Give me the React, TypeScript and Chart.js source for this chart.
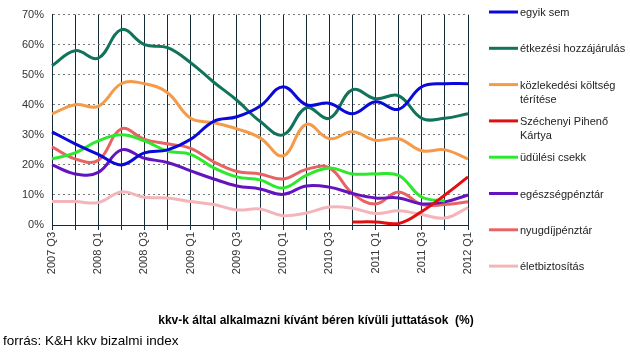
import React, { useEffect, useRef } from "react";
import { Chart, registerables } from "chart.js";

Chart.register(...registerables);

const quarters = [
  "2007 Q3", "2007 Q4", "2008 Q1", "2008 Q2", "2008 Q3", "2008 Q4", "2009 Q1", "2009 Q2",
  "2009 Q3", "2009 Q4", "2010 Q1", "2010 Q2", "2010 Q3", "2010 Q4", "2011 Q1", "2011 Q2",
  "2011 Q3", "2011 Q4", "2012 Q1",
];

const egyikSem = [31, 27, 23.5, 20, 24, 25, 28.5, 34.5, 36, 39.5, 46, 40, 40.5, 37, 41, 38.5, 46, 47, 47];
const etkezesi = [53, 58, 55.5, 65, 60, 59, 54, 47.5, 41.5, 34.5, 30, 39, 35.5, 45, 42, 43, 35.5, 35.5, 37];
const kozlekedesi = [37, 40, 39.5, 47, 47, 44, 35.5, 34, 32, 29, 23, 33.5, 28.7, 31, 28.2, 28.7, 24.7, 25, 22];
const szechenyi = [null, null, null, null, null, null, null, null, null, null, null, null, null, 1, 1, 0.5, 4.5, 10, 16];
const udulesi = [22, 24, 28, 30, 28, 24.6, 23.5, 19, 16, 15, 12.3, 16.5, 19, 17, 17, 16.5, 9.3, 8, null];
const egeszseg = [20, 17, 17.5, 25, 22.2, 20.8, 18, 15.3, 13, 12, 10.2, 13, 12.6, 10.5, 9, 9, 7, 7.7, 10];
const nyugdij = [26, 22, 21.5, 32, 28.5, 27, 25.5, 21, 17.8, 17, 15.3, 18.5, 19, 10.5, 7, 11, 6.8, 6.8, 7.7];
const elet = [7.8, 7.8, 7.5, 11, 9.2, 9, 7.8, 6.8, 5, 5.3, 3.1, 4, 6, 5.6, 3.8, 4.7, 3.5, 2.3, 5.8];

const seriesNames = [
  "egyik sem",
  "étkezési hozzájárulás",
  "közlekedési költség térítése",
  "Széchenyi Pihenő Kártya",
  "üdülési csekk",
  "egészségpénztár",
  "nyugdíjpénztár",
  "életbiztosítás",
];
const legendLines = [
  ["egyik sem"],
  ["étkezési hozzájárulás"],
  ["közlekedési költség", "térítése"],
  ["Széchenyi Pihenő", "Kártya"],
  ["üdülési csekk"],
  ["egészségpénztár"],
  ["nyugdíjpénztár"],
  ["életbiztosítás"],
];
const seriesColors = ["#0a0ad8", "#11735a", "#f59a48", "#e01010", "#2de82d", "#6414bf", "#e86464", "#f4b5ba"];
const seriesData = [egyikSem, etkezesi, kozlekedesi, szechenyi, udulesi, egeszseg, nyugdij, elet];
const yTicks = [0, 10, 20, 30, 40, 50, 60, 70];

const chartTitle = "kkv-k által alkalmazni kívánt béren kívüli juttatások  (%)";
const sourceText = "forrás: K&H kkv bizalmi index";

const FONT = "'Liberation Sans', Arial, sans-serif";

const decorPlugin = {
  id: "decor",
  afterDraw(chart: any) {
    const ctx = chart.ctx;
    ctx.save();
    // legend
    const lx0 = 489;
    const lx1 = 518;
    const startY = 12;
    const stride = 36.3;
    chart.data.datasets.forEach((ds: any, i: number) => {
      const y = startY + i * stride;
      ctx.strokeStyle = ds.borderColor;
      ctx.lineWidth = 3;
      ctx.beginPath();
      ctx.moveTo(lx0, y);
      ctx.lineTo(lx1, y);
      ctx.stroke();
      ctx.fillStyle = "#222";
      ctx.font = `11px ${FONT}`;
      ctx.textBaseline = "middle";
      ctx.textAlign = "left";
      legendLines[i].forEach((t, k) => {
        ctx.fillText(t, 520, y + 1 + k * 14.5);
      });
    });
    // title
    ctx.fillStyle = "#000";
    ctx.font = `bold 12px ${FONT}`;
    ctx.textAlign = "center";
    ctx.textBaseline = "middle";
    ctx.fillText(chartTitle, 316, 321);
    // source
    ctx.font = `13.5px ${FONT}`;
    ctx.textAlign = "left";
    ctx.fillText(sourceText, 3, 341);
    ctx.restore();
  },
};

export default function App() {
  const ref = useRef<HTMLCanvasElement | null>(null);
  useEffect(() => {
    document.body.style.margin = "0";
    if (!ref.current) return;
    const chart = new Chart(ref.current, {
      type: "line",
      data: {
        labels: quarters,
        datasets: seriesNames.map((name, i) => ({
          label: name,
          data: seriesData[i],
          borderColor: seriesColors[i],
          backgroundColor: seriesColors[i],
          borderWidth: 3,
          pointRadius: 0,
          tension: 0.4,
          fill: false,
          spanGaps: false,
        })),
      },
      options: {
        animation: false,
        responsive: false,
        maintainAspectRatio: false,
        layout: { padding: { top: 13, right: 162, left: 0, bottom: 0 } },
        plugins: {
          legend: { display: false },
          title: { display: false },
          tooltip: { enabled: false },
        },
        scales: {
          x: {
            offset: false,
            grid: {
              color: "#142c38",
              lineWidth: 1,
              drawTicks: true,
              tickLength: 5,
            },
            border: { color: "#142c38", width: 1 },
            ticks: {
              autoSkip: false,
              maxRotation: 90,
              minRotation: 90,
              color: "#333",
              font: { family: FONT, size: 11 },
              padding: 2,
              callback: (_v: any, i: number) => (i % 2 === 0 ? quarters[i] : ""),
            },
            afterFit: (scale: any) => {
              scale.height = 127;
            },
          },
          y: {
            min: 0,
            max: 70,
            afterBuildTicks: (scale: any) => {
              scale.ticks = yTicks.map((v) => ({ value: v }));
            },
            grid: {
              color: "#7a7a7a",
              lineWidth: 1,
              drawTicks: false,
            },
            border: { color: "#142c38", width: 1, dash: [2, 3] },
            ticks: {
              color: "#333",
              font: { family: FONT, size: 11 },
              padding: 8,
              callback: (v: any) => `${v}%`,
            },
            afterFit: (scale: any) => {
              scale.width = 52;
            },
          },
        },
      },
      plugins: [decorPlugin],
    });
    return () => chart.destroy();
  }, []);
  return (
    <div style={{ width: 630, height: 352, background: "#fff" }}>
      <canvas ref={ref} width={630} height={352} style={{ display: "block" }} />
    </div>
  );
}
